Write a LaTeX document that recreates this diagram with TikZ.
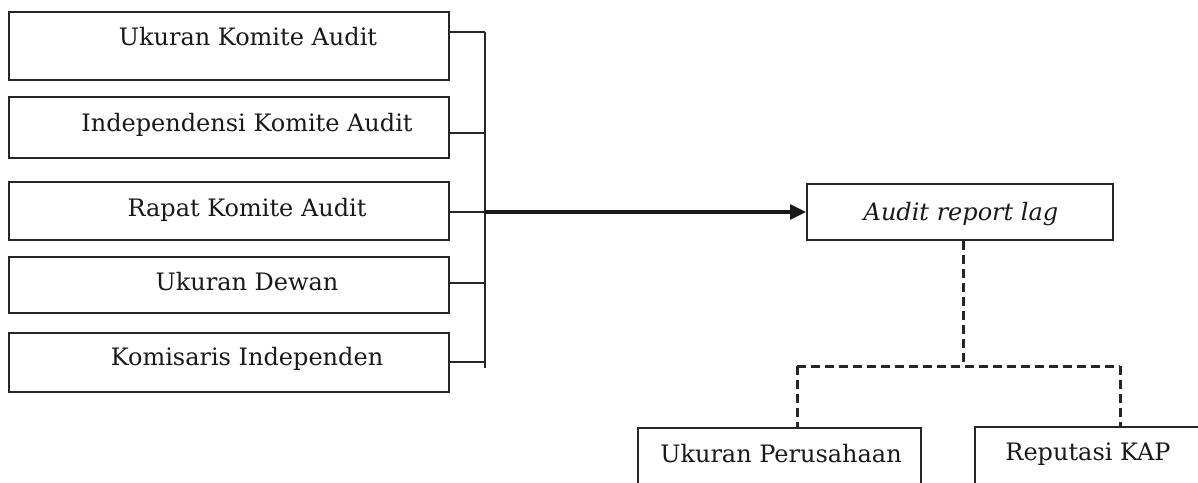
\documentclass[tikz,border=0pt]{standalone}
\usepackage{fontspec}
\setmainfont{DejaVu Serif}
\usetikzlibrary{arrows.meta}
\begin{document}
\begin{tikzpicture}[x=1pt,y=-1pt,
  box/.style={draw=black!85,line width=2pt,rectangle,inner sep=0pt,minimum width=#1},
  txt/.style={font=\fontsize{24}{28}\selectfont,text=black!90,inner sep=0pt,anchor=base},
  conn/.style={draw=black!85,line width=2pt},
  dashline/.style={draw=black!85,line width=3pt,dash pattern=on 9pt off 5pt},
  bigarrow/.style={draw=black!90,line width=3.2pt,-{Triangle[length=16pt,width=15pt]}}]
\useasboundingbox (0,0) rectangle (1198,482);
\clip (0,0) rectangle (1198,482);
% left boxes
\node[box=440pt,minimum height=68pt] (b1) at (229,46) {};
\node[box=440pt,minimum height=61pt] (b2) at (229,127.5) {};
\node[box=440pt,minimum height=58pt] (b3) at (229,211) {};
\node[box=440pt,minimum height=56pt] (b4) at (229,285) {};
\node[box=440pt,minimum height=59pt] (b5) at (229,362.5) {};
\node[txt] (t1) at (248,45) {Ukuran Komite Audit};
\node[txt] (t2) at (247,131) {Independensi Komite Audit};
\node[txt] (t3) at (247,216) {Rapat Komite Audit};
\node[txt] (t4) at (247,290) {Ukuran Dewan};
\node[txt] (t5) at (247,365) {Komisaris Independen};
% bus
\coordinate (bus1) at (485,32);
\coordinate (bus2) at (485,133);
\coordinate (bus3) at (485,212);
\coordinate (bus4) at (485,283);
\coordinate (bus5) at (485,362);
\coordinate (busend) at (485,368);
\draw[conn] (b1.east |- bus1) -- (bus1);
\draw[conn] (b2.east |- bus2) -- (bus2);
\draw[conn] (b3.east |- bus3) -- (bus3);
\draw[conn] (b4.east |- bus4) -- (bus4);
\draw[conn] (b5.east |- bus5) -- (bus5);
\draw[conn] (bus1) -- (busend);
% target
\node[box=306pt,minimum height=56pt] (arl) at (960,212) {};
\node[txt] (tarl) at (961,220) {\itshape Audit report lag};
\draw[bigarrow] (bus3) -- (arl.west);
% moderators
\node[box=283pt,minimum height=80pt] (up) at (779.5,468) {};
\node[box=235pt,minimum height=80pt] (kap) at (1092.5,467) {};
\node[txt] (tup) at (781,462) {Ukuran Perusahaan};
\node[txt] (tkap) at (1088,460) {Reputasi KAP};
\coordinate (jn) at (963,366);
\coordinate (jl) at (797,366);
\coordinate (jr) at (1120,366);
\draw[dashline] (arl.south -| jn) -- (jn);
\draw[dashline] (jl) -- (jr);
\draw[dashline] (jl) -- (jl |- up.north);
\draw[dashline] (jr) -- (jr |- kap.north);
\end{tikzpicture}
\end{document}
